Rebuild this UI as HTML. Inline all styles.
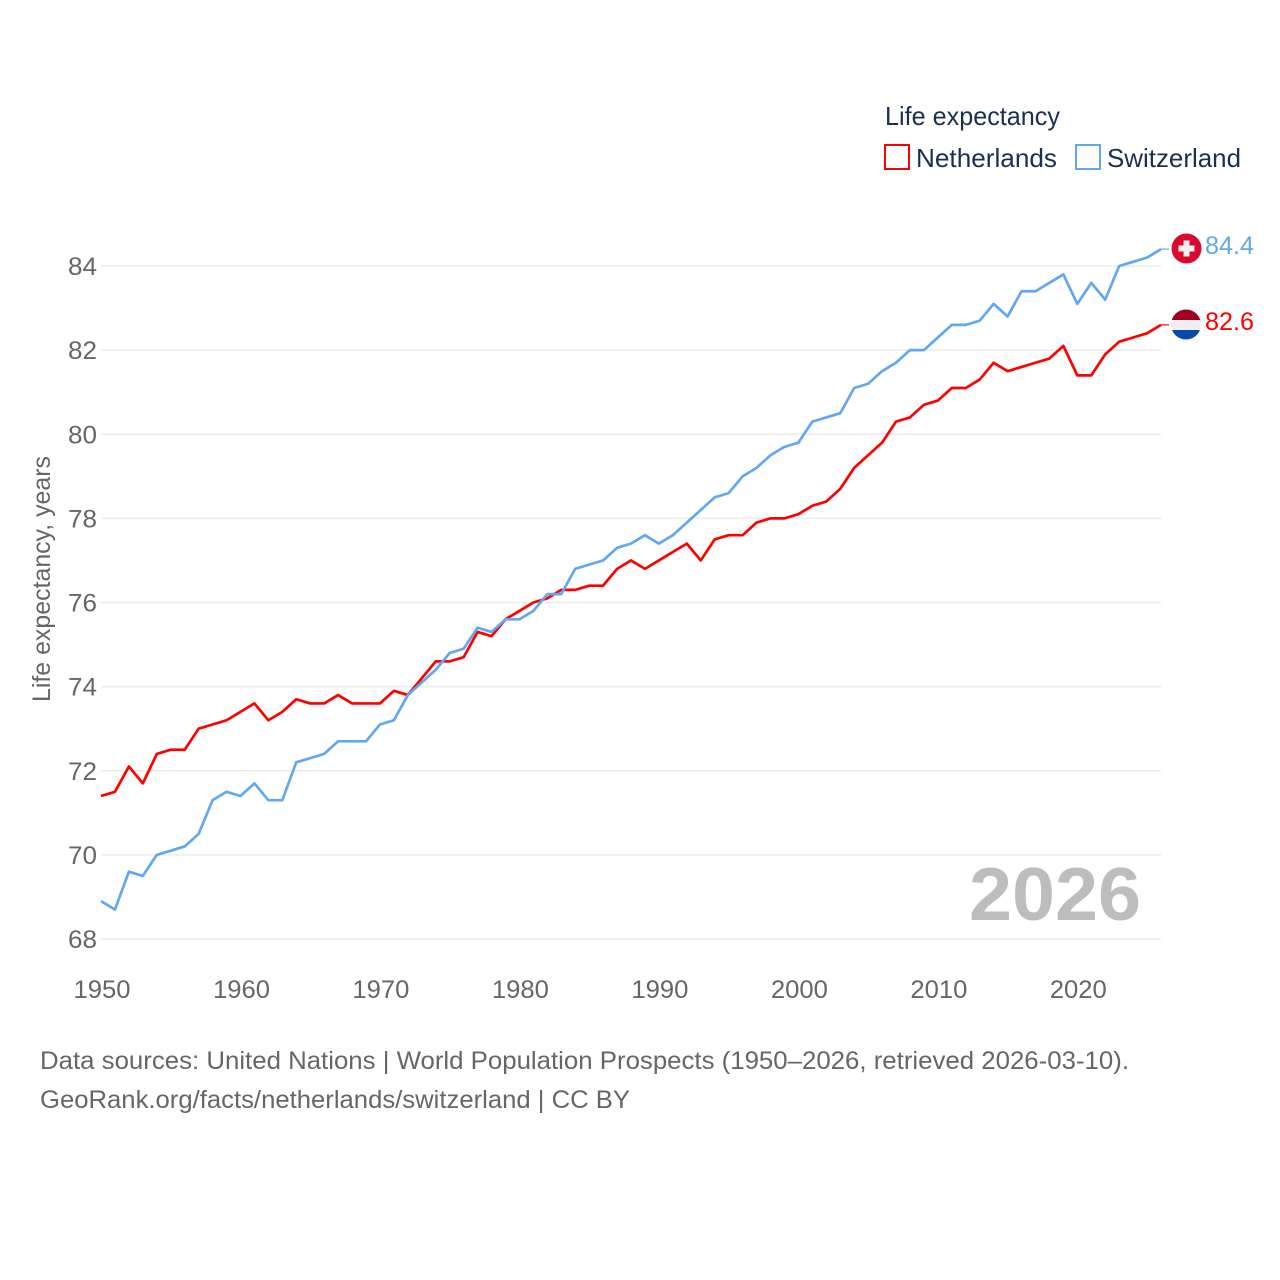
<!DOCTYPE html>
<html>
<head>
<meta charset="utf-8">
<title>Life expectancy: Netherlands and Switzerland</title>
<style>
html,body{margin:0;padding:0;background:#fff;}
svg{display:block;font-family:"Liberation Sans",sans-serif;}
</style>
</head>
<body>
<svg id="chart" width="1280" height="1280" viewBox="0 0 1280 1280" xmlns="http://www.w3.org/2000/svg">
  <rect x="0" y="0" width="1280" height="1280" fill="#ffffff"/>
  <g id="grid"></g>
  <g id="yticks"></g>
  <g id="xticks"></g>
  <text transform="translate(50,702) rotate(-90)" font-size="25" fill="#666666" textLength="246" lengthAdjust="spacingAndGlyphs">Life expectancy, years</text>

  <text x="969" y="920" font-size="75" font-weight="700" fill="#bdbdbd" textLength="172" lengthAdjust="spacingAndGlyphs">2026</text>

  <g id="series"></g>

  <g>
    <text x="885" y="125" font-size="26" fill="#1a3050" textLength="175" lengthAdjust="spacingAndGlyphs">Life expectancy</text>
    <g>
      <rect x="885" y="145" width="24" height="24" fill="none" stroke="#ff0000" stroke-width="2"/>
      <text x="916" y="167" font-size="26" fill="#1a3050" textLength="141" lengthAdjust="spacingAndGlyphs">Netherlands</text>
    </g>
    <g>
      <rect x="1076" y="145" width="24" height="24" fill="none" stroke="#62a8ee" stroke-width="2"/>
      <text x="1107" y="167" font-size="26" fill="#1a3050" textLength="134" lengthAdjust="spacingAndGlyphs">Switzerland</text>
    </g>
  </g>

  <defs>
    <clipPath id="nl-clip"><circle cx="1186" cy="324.5" r="15"/></clipPath>
  </defs>
  <g>
    <circle cx="1186.5" cy="248.5" r="15" fill="#da0a2e"/>
    <rect x="1178.5" y="245.5" width="16" height="6" fill="#efefef"/>
    <rect x="1183.5" y="240.5" width="6" height="16" fill="#efefef"/>
  </g>
  <g clip-path="url(#nl-clip)">
    <rect x="1170" y="309" width="32" height="11" fill="#9e0020"/>
    <rect x="1170" y="320" width="32" height="10" fill="#efefef"/>
    <rect x="1170" y="330" width="32" height="11" fill="#064aa8"/>
  </g>
  <text x="1205" y="254" font-size="25" fill="#62a8ee" textLength="49" lengthAdjust="spacingAndGlyphs">84.4</text>
  <text x="1205" y="330" font-size="25" fill="#ff0000" textLength="49" lengthAdjust="spacingAndGlyphs">82.6</text>

  <text x="40" y="1069" font-size="25" fill="#666666" textLength="1089" lengthAdjust="spacingAndGlyphs">Data sources: United Nations | World Population Prospects (1950–2026, retrieved 2026-03-10).</text>
  <text x="40" y="1108" font-size="25" fill="#666666" textLength="590" lengthAdjust="spacingAndGlyphs">GeoRank.org/facts/netherlands/switzerland | CC BY</text>
</svg>
<script>
const firstYear = 1950;
const netherlands = [71.4,71.5,72.1,71.7,72.4,72.5,72.5,73.0,73.1,73.2,73.4,73.6,73.2,73.4,73.7,73.6,73.6,73.8,73.6,73.6,73.6,73.9,73.8,74.2,74.6,74.6,74.7,75.3,75.2,75.6,75.8,76.0,76.1,76.3,76.3,76.4,76.4,76.8,77.0,76.8,77.0,77.2,77.4,77.0,77.5,77.6,77.6,77.9,78.0,78.0,78.1,78.3,78.4,78.7,79.2,79.5,79.8,80.3,80.4,80.7,80.8,81.1,81.1,81.3,81.7,81.5,81.6,81.7,81.8,82.1,81.4,81.4,81.9,82.2,82.3,82.4,82.6];
const switzerland = [68.9,68.7,69.6,69.5,70.0,70.1,70.2,70.5,71.3,71.5,71.4,71.7,71.3,71.3,72.2,72.3,72.4,72.7,72.7,72.7,73.1,73.2,73.8,74.1,74.4,74.8,74.9,75.4,75.3,75.6,75.6,75.8,76.2,76.2,76.8,76.9,77.0,77.3,77.4,77.6,77.4,77.6,77.9,78.2,78.5,78.6,79.0,79.2,79.5,79.7,79.8,80.3,80.4,80.5,81.1,81.2,81.5,81.7,82.0,82.0,82.3,82.6,82.6,82.7,83.1,82.8,83.4,83.4,83.6,83.8,83.1,83.6,83.2,84.0,84.1,84.2,84.4];
const yTickValues = [68,70,72,74,76,78,80,82,84];
const xTickValues = [1950,1960,1970,1980,1990,2000,2010,2020];

const NS = 'http://www.w3.org/2000/svg';
function xScale(year){ return 101 + (year - 1950) * (1161 - 101) / (2026 - 1950); }
function yScale(v){ return 939 - (v - 68) * (939 - 266) / (84 - 68); }

const gridGroup = document.getElementById('grid');
const yGroup = document.getElementById('yticks');
const xGroup = document.getElementById('xticks');
const seriesGroup = document.getElementById('series');

yTickValues.forEach(function(v){
  const line = document.createElementNS(NS,'line');
  
  
  line.setAttribute('x1', xScale(1950));
  line.setAttribute('x2', xScale(2026));
  line.setAttribute('y1', yScale(v));
  line.setAttribute('y2', yScale(v));
  line.setAttribute('stroke', '#ebebeb');
  line.setAttribute('stroke-width', '1.5');
  gridGroup.appendChild(line);

  const t = document.createElementNS(NS,'text');
  
  
  t.setAttribute('x', 68);
  t.setAttribute('y', yScale(v) + 9);
  t.setAttribute('font-size', '25');
  t.setAttribute('fill', '#666666');
  t.setAttribute('textLength', '29');
  t.setAttribute('lengthAdjust', 'spacingAndGlyphs');
  t.textContent = String(v);
  yGroup.appendChild(t);
});

xTickValues.forEach(function(y){
  const t = document.createElementNS(NS,'text');
  
  
  t.setAttribute('x', xScale(y) - 27.5);
  t.setAttribute('y', 998);
  t.setAttribute('font-size', '25');
  t.setAttribute('fill', '#666666');
  t.setAttribute('textLength', '57');
  t.setAttribute('lengthAdjust', 'spacingAndGlyphs');
  t.textContent = String(y);
  xGroup.appendChild(t);
});

function pointsFor(values){
  return values.map(function(v,i){
    return xScale(firstYear + i).toFixed(2) + ',' + yScale(v).toFixed(2);
  }).join(' ');
}

const nlLine = document.createElementNS(NS,'polyline');


nlLine.setAttribute('points', pointsFor(netherlands));
nlLine.setAttribute('fill', 'none');
nlLine.setAttribute('stroke', '#ff0000');
nlLine.setAttribute('stroke-width', '2.7');
nlLine.setAttribute('stroke-linejoin', 'round');
seriesGroup.appendChild(nlLine);

const chLine = document.createElementNS(NS,'polyline');


chLine.setAttribute('points', pointsFor(switzerland));
chLine.setAttribute('fill', 'none');
chLine.setAttribute('stroke', '#62a8ee');
chLine.setAttribute('stroke-width', '2.7');
chLine.setAttribute('stroke-linejoin', 'round');
seriesGroup.appendChild(chLine);

const nlStub = document.createElementNS(NS,'line');


nlStub.setAttribute('x1', xScale(2026));
nlStub.setAttribute('x2', xScale(2026) + 8);
nlStub.setAttribute('y1', yScale(netherlands[netherlands.length - 1]));
nlStub.setAttribute('y2', yScale(netherlands[netherlands.length - 1]));
nlStub.setAttribute('stroke', '#ff0000');
nlStub.setAttribute('stroke-width', '1.5');
nlStub.setAttribute('opacity', '0.8');
seriesGroup.appendChild(nlStub);

const chStub = document.createElementNS(NS,'line');


chStub.setAttribute('x1', xScale(2026));
chStub.setAttribute('x2', xScale(2026) + 8);
chStub.setAttribute('y1', yScale(switzerland[switzerland.length - 1]));
chStub.setAttribute('y2', yScale(switzerland[switzerland.length - 1]));
chStub.setAttribute('stroke', '#62a8ee');
chStub.setAttribute('stroke-width', '1.5');
chStub.setAttribute('opacity', '0.8');
seriesGroup.appendChild(chStub);
</script>
</body>
</html>
